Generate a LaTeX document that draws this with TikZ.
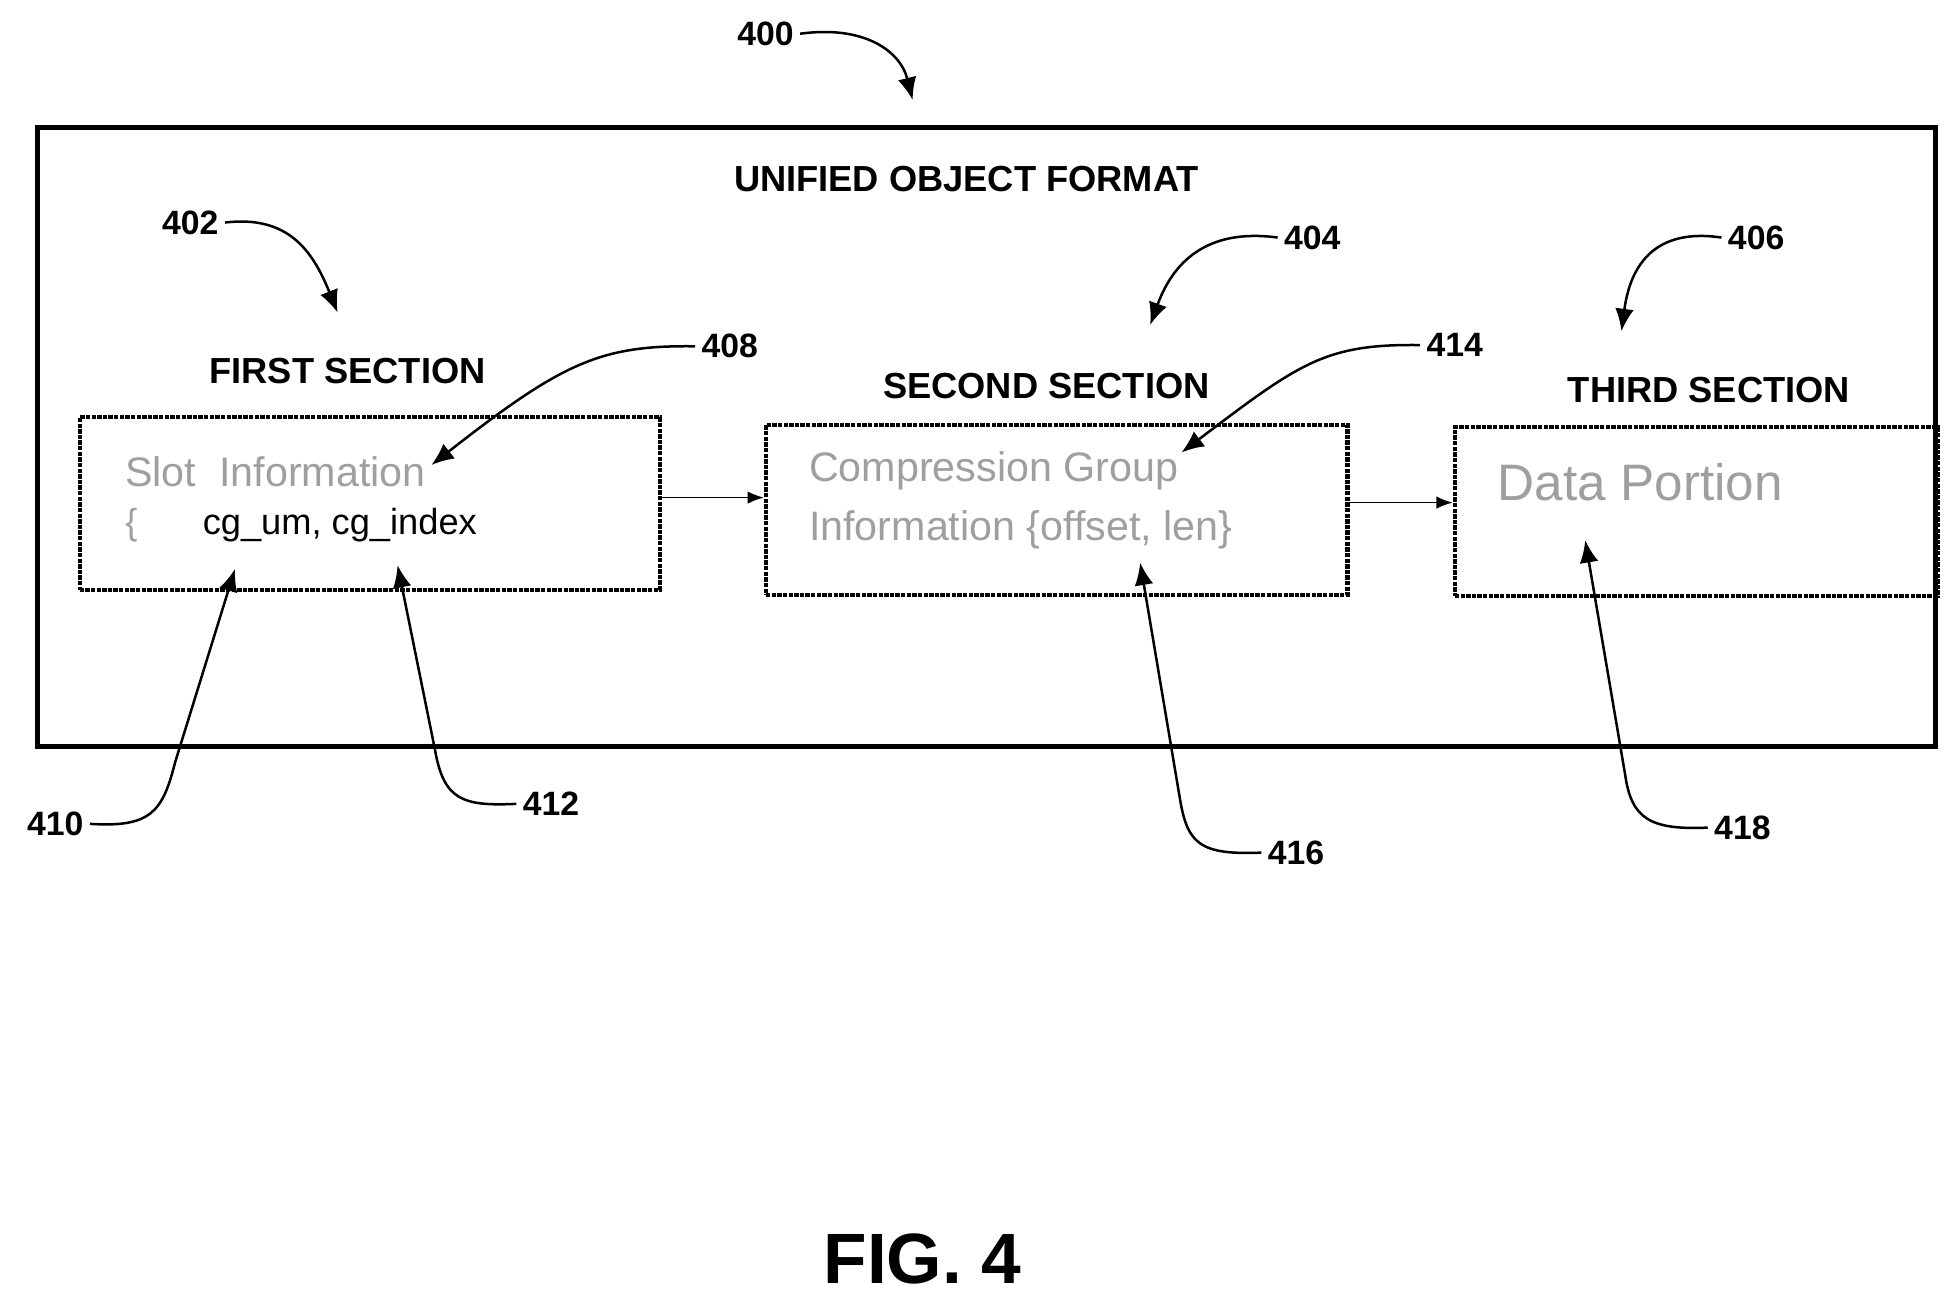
\documentclass[tikz,border=0pt]{standalone}
\usepackage{fontspec}
\setmainfont{Liberation Sans}
\usetikzlibrary{arrows.meta}
\begin{document}
\begin{tikzpicture}[x=1pt,y=-1pt,
  lbl/.style={font=\fontsize{27}{29}\selectfont\bfseries, inner sep=5pt},
  ttl/.style={font=\fontsize{29}{31}\selectfont\bfseries},
  sec/.style={draw, line width=3.5pt, densely dotted},
  lead/.style={line width=2pt, -{Latex[length=18pt,width=15pt]}},
  flow/.style={line width=1.4pt, -{Latex[length=13pt,width=10pt]}},
  gtxt/.style={font=\fontsize{33}{35}\selectfont, text=gray!75, anchor=west, inner sep=0pt}]
\useasboundingbox (0,0) rectangle (1563,1042);
\draw[line width=4pt] (30,102) rectangle (1548,597);
\node[ttl] (uof) at (773,143) {UNIFIED OBJECT FORMAT};
\node[ttl] (t1) at (278,297) {FIRST SECTION};
\node[ttl] (t2) at (837,309) {SECOND SECTION};
\node[ttl] (t3) at (1367,312) {THIRD SECTION};
\node[sec, minimum width=464, minimum height=138, anchor=north west] (b1) at (62,332) {};
\node[sec, minimum width=465, minimum height=136, anchor=north west] (b2) at (611,338) {};
\node[sec, minimum width=386, minimum height=135, anchor=north west] (b3) at (1162,340) {};
\node[gtxt] (s1) at (100,377) {Slot\ \ Information};
\node[anchor=west, inner sep=0pt, font=\fontsize{29}{31}\selectfont, text=gray!75] (s2a) at (100,420) {\{};
\node[anchor=west, inner sep=0pt, font=\fontsize{29}{31}\selectfont] (s2) at (162,420) {cg\_um, cg\_index};
\node[gtxt] (c1) at (647,377) {Compression Group};
\node[gtxt] (c2) at (647,424) {Information \{offset, len\}};
\node[gtxt, font=\fontsize{41}{43}\selectfont] (d1) at (1198,386) {Data Portion};
\coordinate (a1) at (526,398); \coordinate (a2) at (611,398);
\coordinate (a3) at (1076,402); \coordinate (a4) at (1162,402);
\draw[flow] (a1) -- (a2);
\draw[flow] (a3) -- (a4);
\node[lbl, anchor=east] (n400) at (640,27) {400};
\node[lbl, anchor=east] (n402) at (180,178) {402};
\node[lbl, anchor=west] (n404) at (1022,190) {404};
\node[lbl, anchor=west] (n406) at (1377,190) {406};
\node[lbl, anchor=west] (n408) at (556,277) {408};
\node[lbl, anchor=west] (n414) at (1136,276) {414};
\node[lbl, anchor=east] (n410) at (72,659) {410};
\node[lbl, anchor=west] (n412) at (413,643) {412};
\node[lbl, anchor=west] (n416) at (1009,682) {416};
\node[lbl, anchor=west] (n418) at (1366,662) {418};
\coordinate (p400) at (730,80); \coordinate (p402) at (270,250);
\coordinate (p404) at (920,260); \coordinate (p406) at (1297,265);
\coordinate (p408) at (345,372); \coordinate (p414) at (945,362);
\coordinate (p410) at (188,455); \coordinate (p412) at (318,452);
\coordinate (p416) at (912,450); \coordinate (p418) at (1268,432);
\draw[lead] (n400.east) .. controls (690,20) and (720,40) .. (p400);
\draw[lead] (n402.east) .. controls (230,172) and (250,200) .. (p402);
\draw[lead] (n404.west) .. controls (970,183) and (940,205) .. (p404);
\draw[lead] (n406.west) .. controls (1330,183) and (1305,205) .. (p406);
\draw[lead] (n408.west) .. controls (480,276) and (450,290) .. (p408);
\draw[lead] (n414.west) .. controls (1060,275) and (1040,290) .. (p414);
\draw[lead] (n410.east) .. controls (120,662) and (130,650) .. (140,610) -- (p410);
\draw[lead] (n412.west) .. controls (370,645) and (355,640) .. (348,600) -- (p412);
\draw[lead] (n416.west) .. controls (960,684) and (950,675) .. (944,640) -- (p416);
\draw[lead] (n418.west) .. controls (1320,664) and (1305,655) .. (1300,620) -- (p418);
\node[font=\fontsize{57}{60}\selectfont\bfseries] (fig) at (738,1007) {FIG. 4};
\end{tikzpicture}
\end{document}
